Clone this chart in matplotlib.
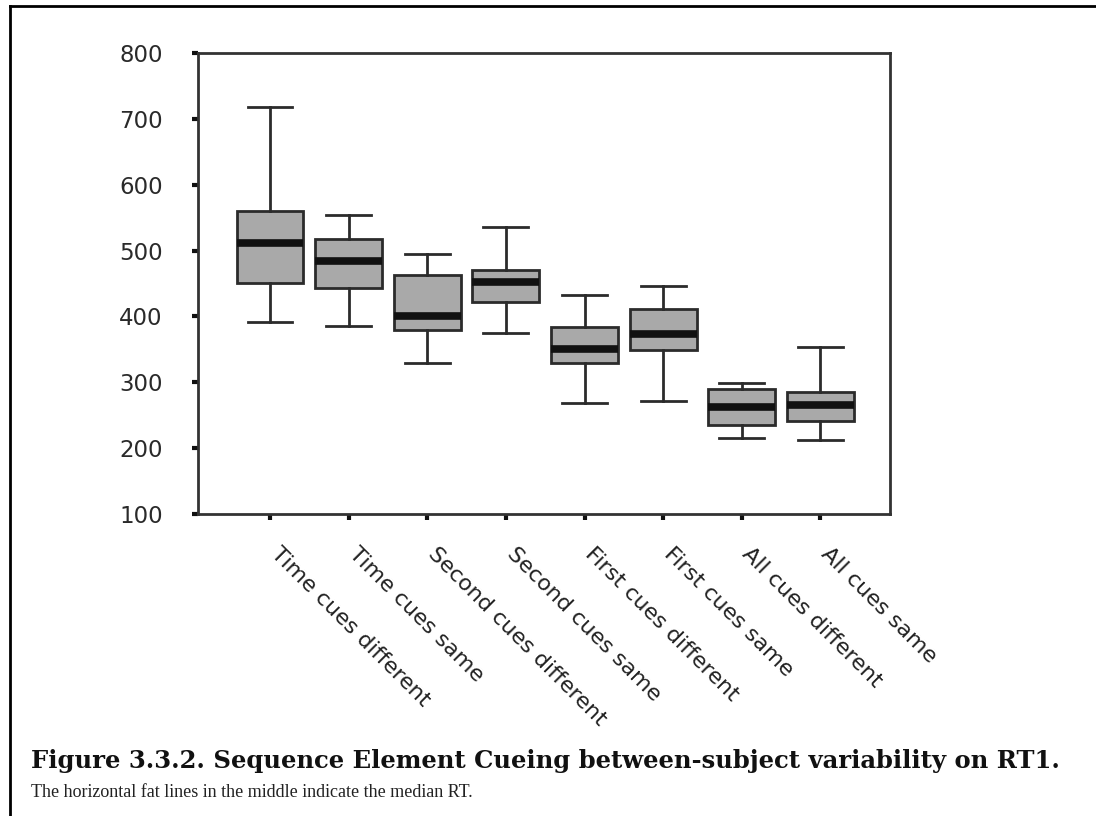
import matplotlib
matplotlib.use("Agg")
import matplotlib.pyplot as plt
import matplotlib.transforms as mtransforms
from matplotlib.lines import Line2D

# values (RT in ms)
conditions = ['Time cues different', 'Time cues same', 'Second cues different',
              'Second cues same', 'First cues different', 'First cues same',
              'All cues different', 'All cues same']
whisker_low = [392, 386, 329, 375, 269, 272, 215, 212]
q1 = [451, 443, 379, 422, 329, 349, 235, 242]
median = [511, 484, 400, 452, 351, 374, 262, 265]
q3 = [560, 517, 463, 471, 384, 411, 290, 285]
whisker_high = [718, 554, 495, 536, 433, 447, 299, 353]
yticks = [100, 200, 300, 400, 500, 600, 700, 800]

fig = plt.figure(figsize=(10.96, 8.16), dpi=100)
ax = fig.add_axes([0.1807, 0.370, 0.631, 0.565])

stats = []
for i in range(len(conditions)):
    stats.append({'whislo': whisker_low[i], 'q1': q1[i], 'med': median[i],
                  'q3': q3[i], 'whishi': whisker_high[i], 'fliers': []})

dark = '#2b2b2b'
positions = list(range(1, len(conditions) + 1))
ax.bxp(stats, positions=positions, widths=0.85,
       patch_artist=True, showfliers=False,
       boxprops=dict(facecolor='#a9a9a9', edgecolor=dark, linewidth=2),
       medianprops=dict(color='#111111', linewidth=5.5, solid_capstyle='butt'),
       whiskerprops=dict(color=dark, linewidth=2),
       capprops=dict(color=dark, linewidth=2), capwidths=0.57)

ax.set_xlim(0.085, 8.88)
ax.set_ylim(100, 800)
ax.set_yticks(yticks)
ax.set_yticklabels([str(v) for v in yticks], fontsize=16.5, color='#2a2a2a')
ax.set_xticks(positions)
ax.set_xticklabels([])

# rotated category labels, nudged right/down like the original
offset = mtransforms.ScaledTranslation(11 / 100, -30 / 100, fig.dpi_scale_trans)
for pos, name in zip(positions, conditions):
    ax.text(pos, 0, name, transform=ax.get_xaxis_transform() + offset,
            rotation=-45, ha='left', va='top', rotation_mode='anchor',
            fontsize=16, color='#222222')

ax.tick_params(axis='both', direction='out', length=4, width=3, color='#111111')
ax.tick_params(axis='y', pad=21.5)
for s in ax.spines.values():
    s.set_color('#333333')
    s.set_linewidth(2)

# caption
fig.text(0.028, 0.067, 'Figure 3.3.2. Sequence Element Cueing between-subject variability on RT1.',
         fontsize=17.5, fontweight='bold', family='DejaVu Serif', color='#111111', va='center')
fig.text(0.028, 0.029, 'The horizontal fat lines in the middle indicate the median RT.',
         fontsize=13, family='Liberation Serif', color='#222222', va='center')

# page frame (top and left edges)
fig.add_artist(Line2D([0.009, 1.0], [0.9925, 0.9925], transform=fig.transFigure, color='black', lw=2))
fig.add_artist(Line2D([0.009, 0.009], [0.0, 0.9925], transform=fig.transFigure, color='black', lw=2))

plt.savefig('out.png', dpi=100)
